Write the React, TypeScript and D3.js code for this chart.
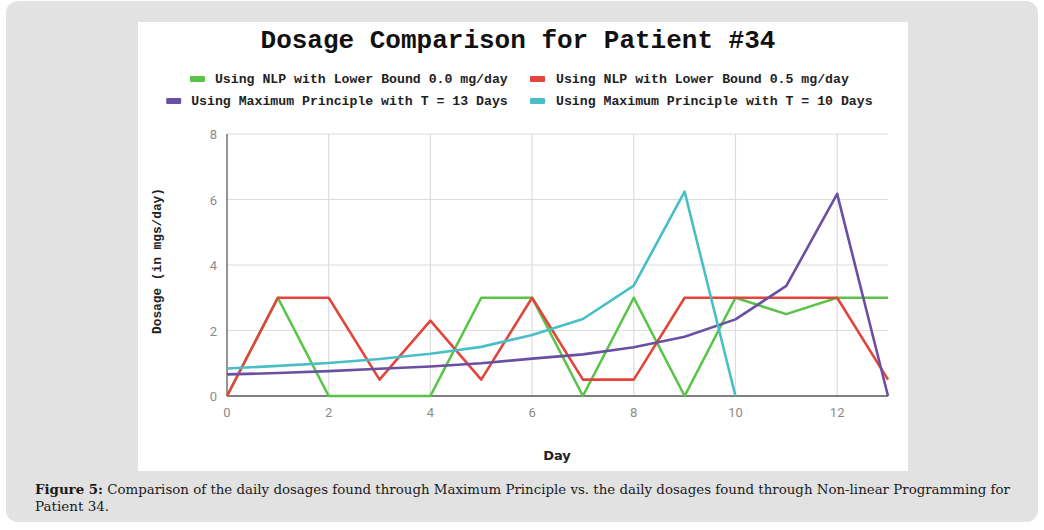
import * as d3 from "d3";

const W = 1044;
const H = 530;

// chart box inside the grey figure panel
const BOX = { x: 138, y: 22, w: 770, h: 449 };
const PLOT = { left: 227, right: 888, top: 134, bottom: 396 };

const days = [0, 1, 2, 3, 4, 5, 6, 7, 8, 9, 10, 11, 12, 13];
const daysT10 = [0, 1, 2, 3, 4, 5, 6, 7, 8, 9, 10];

const nlpLow0 = [0, 3, 0, 0, 0, 3, 3, 0, 3, 0, 3, 2.5, 3, 3];
const nlpLow05 = [0, 3, 3, 0.5, 2.3, 0.5, 3, 0.5, 0.5, 3, 3, 3, 3, 0.5];
const maxT13 = [0.66, 0.7, 0.76, 0.83, 0.9, 1.0, 1.14, 1.27, 1.49, 1.81, 2.34, 3.36, 6.17, 0];
const maxT10 = [0.84, 0.92, 1.01, 1.13, 1.29, 1.5, 1.86, 2.35, 3.37, 6.24, 0];

const xTicks = [0, 2, 4, 6, 8, 10, 12];
const yTicks = [0, 2, 4, 6, 8];

const series = [
    { name: "Using NLP with Lower Bound 0.0 mg/day", color: "#5ac449", x: days, y: nlpLow0 },
    { name: "Using NLP with Lower Bound 0.5 mg/day", color: "#e2453b", x: days, y: nlpLow05 },
    { name: "Using Maximum Principle with T = 13 Days", color: "#6a4fa3", x: days, y: maxT13 },
    { name: "Using Maximum Principle with T = 10 Days", color: "#48bfc6", x: daysT10, y: maxT10 },
];

const MONO = "'Liberation Mono', 'DejaVu Sans Mono', monospace";
const SERIF = "'DejaVu Serif', 'Liberation Serif', serif";
const LEGEND_FS = 13.2;
const CHAR_W = LEGEND_FS * 0.6;

export default function App() {
    const xScale = d3.scaleLinear().domain([0, 13]).range([PLOT.left, PLOT.right]);
    const yScale = d3.scaleLinear().domain([0, 8]).range([PLOT.bottom, PLOT.top]);

    const line = d3.line<[number, number]>()
        .x((d) => xScale(d[0]))
        .y((d) => yScale(d[1]));

    // legend: two rows, left item ends at 508, right item starts at 530
    const legendRows = [
        [series[0], series[1]],
        [series[2], series[3]],
    ];

    return (
        <svg width={W} height={H} style={{ position: "absolute", left: 0, top: 0 }}>
            <rect x={0} y={0} width={W} height={H} fill="#fff" />
            <rect x={6} y={1} width={1032} height={521} rx={12} fill="#e2e2e2" />
            <rect x={BOX.x} y={BOX.y} width={BOX.w} height={BOX.h} fill="#fff" />

            <text x={518} y={48} textAnchor="middle" fontFamily={MONO} fontWeight="bold" fontSize={26} fill="#111">
                Dosage Comparison for Patient #34
            </text>

            {legendRows.map((row, ri) => {
                const y = 79 + ri * 22;
                const leftTextW = row[0].name.length * CHAR_W;
                const leftX = 508 - leftTextW - 25;
                return (
                    <g key={ri}>
                        <rect x={leftX} y={y - 3} width={15} height={6} rx={1} fill={row[0].color} />
                        <text x={leftX + 25} y={y + 4} fontFamily={MONO} fontWeight="bold" fontSize={LEGEND_FS} fill="#222">
                            {row[0].name}
                        </text>
                        <rect x={530} y={y - 3} width={15} height={6} rx={1} fill={row[1].color} />
                        <text x={556} y={y + 4} fontFamily={MONO} fontWeight="bold" fontSize={LEGEND_FS} fill="#222">
                            {row[1].name}
                        </text>
                    </g>
                );
            })}

            {/* grid */}
            {yTicks.filter((t) => t > 0).map((t) => (
                <line key={"gy" + t} x1={PLOT.left} x2={PLOT.right} y1={yScale(t)} y2={yScale(t)} stroke="#dcdcdc" strokeWidth={1.2} />
            ))}
            {xTicks.filter((t) => t > 0).map((t) => (
                <line key={"gx" + t} x1={xScale(t)} x2={xScale(t)} y1={PLOT.top} y2={PLOT.bottom} stroke="#dcdcdc" strokeWidth={1.2} />
            ))}
            <line x1={PLOT.left} x2={PLOT.left} y1={PLOT.top} y2={PLOT.bottom} stroke="#707070" strokeWidth={1.5} />
            <line x1={PLOT.left} x2={PLOT.right} y1={PLOT.bottom} y2={PLOT.bottom} stroke="#555" strokeWidth={1.5} />

            {/* tick labels */}
            {yTicks.map((t) => (
                <text key={"ty" + t} x={PLOT.left - 10} y={yScale(t) + 5} textAnchor="end" fontFamily="Roboto, sans-serif" fontSize={13} fill="#8a8a8a">
                    {t}
                </text>
            ))}
            {xTicks.map((t) => (
                <text key={"tx" + t} x={xScale(t)} y={PLOT.bottom + 21} textAnchor="middle" fontFamily="Roboto, sans-serif" fontSize={13} fill="#8a8a8a">
                    {t}
                </text>
            ))}

            {/* series */}
            {series.map((s) => (
                <path
                    key={s.name}
                    d={line(s.x.map((d, i) => [d, s.y[i]] as [number, number])) ?? ""}
                    fill="none"
                    stroke={s.color}
                    strokeWidth={2.6}
                    strokeLinejoin="round"
                />
            ))}

            {/* axis titles */}
            <text
                transform={`translate(161,${(PLOT.top + PLOT.bottom) / 2 - 4}) rotate(-90)`}
                textAnchor="middle"
                fontFamily={MONO}
                fontWeight="bold"
                fontSize={12.8}
                fill="#222"
            >
                Dosage (in mgs/day)
            </text>
            <text x={557} y={460} textAnchor="middle" fontFamily="'DejaVu Sans', sans-serif" fontWeight="bold" fontSize={13} fill="#222">
                Day
            </text>

            {/* caption */}
            <text x={35} y={494} fontFamily={SERIF} fontSize={13.5} fill="#1a1a1a" textLength={975} lengthAdjust="spacingAndGlyphs">
                <tspan fontWeight="bold">Figure 5:</tspan> Comparison of the daily dosages found through Maximum Principle vs. the daily dosages found through Non-linear Programming for
            </text>
            <text x={35} y={511} fontFamily={SERIF} fontSize={13.5} fill="#1a1a1a">
                Patient 34.
            </text>
        </svg>
    );
}
